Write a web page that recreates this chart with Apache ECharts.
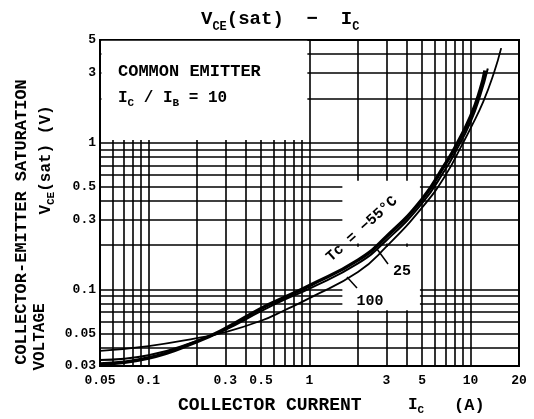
<!DOCTYPE html>
<html>
<head>
<meta charset="utf-8">
<script src="https://cdn.jsdelivr.net/npm/echarts@6/dist/echarts.min.js"></script>
<style>
html, body { margin: 0; padding: 0; background: #fff; }
#chart { width: 534px; height: 419px; }
</style>
</head>
<body>
<div id="chart"></div>
<script>
// tick labels shown on the axes
var xTicks = [0.05, 0.1, 0.3, 0.5, 1, 3, 5, 10, 20];
var yTicks = [0.03, 0.05, 0.1, 0.3, 0.5, 1, 3, 5];
// log grid lines of the datasheet
var gridX = [0.06, 0.07, 0.08, 0.09, 0.1, 0.2, 0.3, 0.4, 0.5, 0.6, 0.7, 0.8, 0.9, 1, 2, 3, 4, 5, 6, 7, 8, 9, 10];
var gridY = [0.04, 0.05, 0.06, 0.07, 0.08, 0.09, 0.1, 0.2, 0.3, 0.4, 0.5, 0.6, 0.7, 0.8, 0.9, 1, 2, 3, 4];

// collector current IC (A) and VCE(sat) (V) for each case temperature
var ic_m55 = [0.05, 0.1, 0.2, 0.3, 0.5, 0.7, 1, 2, 3, 5, 7, 8, 10, 11.5, 12.3];
var vce_m55 = [0.031, 0.034, 0.044, 0.054, 0.074, 0.088, 0.106, 0.158, 0.228, 0.41, 0.72, 0.92, 1.5, 2.3, 3.1];
var ic_25 = [0.05, 0.1, 0.2, 0.3, 0.5, 0.7, 1, 2, 3, 5, 7, 8, 10, 11.5, 12.8];
var vce_25 = [0.033, 0.0355, 0.0445, 0.053, 0.071, 0.085, 0.101, 0.15, 0.215, 0.385, 0.66, 0.85, 1.38, 2.1, 3.2];
var ic_100 = [0.05, 0.1, 0.2, 0.3, 0.5, 0.7, 1, 2, 3, 5, 7, 9, 10, 12, 14, 15.5];
var vce_100 = [0.038, 0.041, 0.0465, 0.051, 0.061, 0.072, 0.087, 0.131, 0.195, 0.36, 0.6, 1.0, 1.25, 1.9, 3.0, 4.4];

var FONT = "'Liberation Mono', 'DejaVu Sans Mono', monospace";

function pairs(xs, ys) {
    var out = [];
    for (var i = 0; i < xs.length; i++) {
        out.push([xs[i], ys[i]]);
    }
    return out;
}

function fmt(v) {
    return String(+Number(v).toPrecision(3));
}

var myChart = echarts.init(document.getElementById('chart'));

var gridLines = [];
gridX.forEach(function (v) { gridLines.push({ xAxis: v }); });
gridY.forEach(function (v) { gridLines.push({ yAxis: v }); });

var titleRich = {
    v: { fontFamily: FONT, fontSize: 19, fontWeight: 'bold', color: '#000', verticalAlign: 'top', lineHeight: 20 },
    s: { fontFamily: FONT, fontSize: 12, fontWeight: 'bold', color: '#000', verticalAlign: 'top', lineHeight: 12, padding: [11, 0, 0, 0] }
};
var labRich = {
    v: { fontFamily: FONT, fontSize: 16, fontWeight: 'bold', color: '#000', verticalAlign: 'top', lineHeight: 16 },
    s: { fontFamily: FONT, fontSize: 11, fontWeight: 'bold', color: '#000', verticalAlign: 'top', lineHeight: 11, padding: [8, 0, 0, 0] }
};

myChart.setOption({
    animation: false,
    backgroundColor: '#fff',
    title: {
        text: '{v|V}{s|CE}{v|(sat)  −  I}{s|C}',
        left: 196,
        top: 5,
        textStyle: { rich: titleRich }
    },
    grid: {
        left: 100, right: 15, top: 40, bottom: 53,
        show: true, borderColor: '#000', borderWidth: 2, backgroundColor: '#fff'
    },
    xAxis: {
        type: 'log', logBase: 10, min: 0.05, max: 20,
        axisLine: { show: false },
        axisTick: { show: false },
        splitLine: { show: false },
        minorSplitLine: { show: false },
        axisLabel: {
            customValues: xTicks,
            formatter: fmt,
            fontFamily: FONT, fontSize: 13, fontWeight: 'bold', color: '#000', margin: 8
        }
    },
    yAxis: {
        type: 'log', logBase: 10, min: 0.03, max: 5,
        axisLine: { show: false },
        axisTick: { show: true, inside: true, length: 8, customValues: [2, 3, 4], lineStyle: { color: '#000', width: 1.5 } },
        splitLine: { show: false },
        minorSplitLine: { show: false },
        axisLabel: {
            customValues: yTicks,
            formatter: fmt,
            fontFamily: FONT, fontSize: 13, fontWeight: 'bold', color: '#000', margin: 4
        }
    },
    series: [
        {
            name: 'grid', type: 'scatter', data: [], symbolSize: 0, silent: true, z: 1,
            markLine: {
                silent: true, symbol: 'none', z: 1, animation: false,
                label: { show: false },
                lineStyle: { color: '#000', width: 1.6, type: 'solid' },
                emphasis: { disabled: true },
                data: gridLines
            }
        },
        {
            name: 'blank', type: 'scatter', data: [], symbolSize: 0, silent: true, z: 2,
            markArea: {
                silent: true, z: 2, animation: false,
                itemStyle: { color: '#fff', opacity: 1 },
                label: { show: false },
                data: [
                    [{ coord: [0.051, 1.04] }, { coord: [0.97, 4.95] }],
                    [{ coord: [1.6, 0.072] }, { coord: [4.85, 0.195] }],
                    [{ coord: [1.6, 0.205] }, { coord: [4.85, 0.55] }]
                ]
            }
        },
        {
            name: '100', type: 'line', smooth: true, showSymbol: false, z: 10,
            lineStyle: { color: '#000', width: 1.8 },
            data: pairs(ic_100, vce_100)
        },
        {
            name: '25', type: 'line', smooth: true, showSymbol: false, z: 10,
            lineStyle: { color: '#000', width: 2 },
            data: pairs(ic_25, vce_25)
        },
        {
            name: '-55', type: 'line', smooth: true, showSymbol: false, z: 11,
            lineStyle: { color: '#000', width: 3.5 },
            data: pairs(ic_m55, vce_m55)
        }
    ],
    graphic: [
        { type: 'text', x: 118, y: 63, z: 20, style: { text: 'COMMON EMITTER', font: 'bold 17px ' + FONT, fill: '#000' } },
        { type: 'text', x: 118, y: 90, z: 20, style: { text: '{v|I}{s|C}{v| / I}{s|B}{v| = 10}', rich: labRich } },
        { type: 'text', x: 22, y: 222, rotation: Math.PI / 2, z: 20,
          style: { text: 'COLLECTOR-EMITTER SATURATION', font: 'bold 17px ' + FONT, fill: '#000', align: 'center', verticalAlign: 'middle' } },
        { type: 'text', x: 40, y: 337, rotation: Math.PI / 2, z: 20,
          style: { text: 'VOLTAGE', font: 'bold 16px ' + FONT, fill: '#000', align: 'center', verticalAlign: 'middle' } },
        { type: 'text', x: 46, y: 160, rotation: Math.PI / 2, z: 20,
          style: { text: '{v|V}{s|CE}{v|(sat) (V)}', rich: labRich, align: 'center', verticalAlign: 'middle' } },
        { type: 'text', x: 178, y: 396, z: 20, style: { text: 'COLLECTOR CURRENT', font: 'bold 18px ' + FONT, fill: '#000' } },
        { type: 'text', x: 408, y: 397, z: 20, style: { text: '{v|I}{s|C}', rich: labRich } },
        { type: 'text', x: 454, y: 397, z: 20, style: { text: '(A)', font: 'bold 17px ' + FONT, fill: '#000' } },
        { type: 'text', x: 362, y: 229, rotation: 42 * Math.PI / 180, z: 20,
          style: { text: 'Tc = −55°C', font: 'bold 15px ' + FONT, fill: '#000', align: 'center', verticalAlign: 'middle' } },
        { type: 'line', z: 20, shape: { x1: 377, y1: 249, x2: 388, y2: 264 }, style: { stroke: '#000', lineWidth: 1.5 } },
        { type: 'text', x: 402, y: 271, z: 20, style: { text: '25', font: 'bold 15px ' + FONT, fill: '#000', align: 'center', verticalAlign: 'middle' } },
        { type: 'line', z: 20, shape: { x1: 347, y1: 277, x2: 357, y2: 288 }, style: { stroke: '#000', lineWidth: 1.5 } },
        { type: 'text', x: 370, y: 301, z: 20, style: { text: '100', font: 'bold 15px ' + FONT, fill: '#000', align: 'center', verticalAlign: 'middle' } }
    ]
});
</script>
</body>
</html>
